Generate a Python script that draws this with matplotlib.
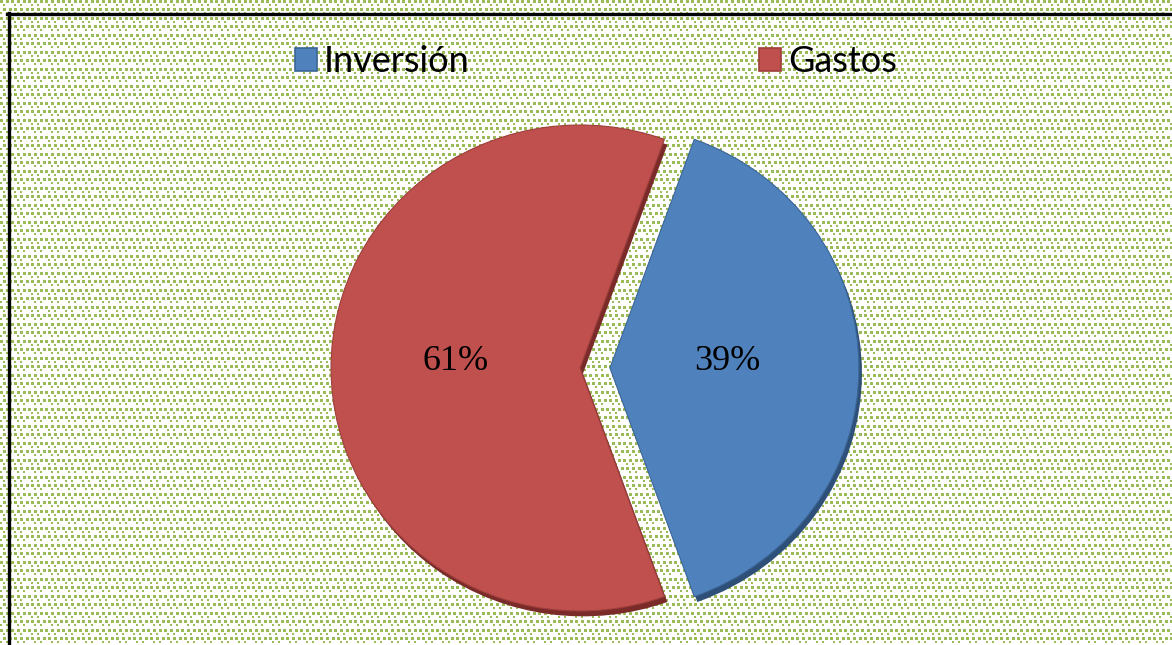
import numpy as np
import matplotlib
matplotlib.use("Agg")
import matplotlib.pyplot as plt
from matplotlib.patches import Patch
from matplotlib.lines import Line2D

categories = ["Inversión", "Gastos"]
values = [39, 61]
colors = ["#4F81BD", "#C0504D"]
shadow_colors = ["#2E5078", "#7A2B29"]
edge_colors = ["#3A6595", "#9C3E3B"]

W, H = 1172, 645
fig = plt.figure(figsize=(W / 100, H / 100), dpi=100)

# background dotted pattern
bg = fig.add_axes([0, 0, 1, 1])
img = np.ones((H, W, 3))
green = np.array([0x9B, 0xBB, 0x59]) / 255.0
tile = np.zeros((17, 17), dtype=bool)
for (r, c) in [(0, 0), (0, 6), (0, 11), (8, 3), (8, 9), (8, 14)]:
    tile[r:r + 3, c:c + 3] = True
for (r, c) in [(4, 3), (4, 14), (12, 0), (12, 6)]:
    tile[r:r + 2, c:c + 2] = True
mask = np.tile(tile, (H // 17 + 1, W // 17 + 1))[:H, :W]
img[mask] = green
bg.imshow(img, interpolation="nearest", aspect="auto", extent=(0, W, H, 0))
bg.set_xlim(0, W)
bg.set_ylim(H, 0)
bg.axis("off")
# frame
bg.add_line(Line2D([8.5, 8.5], [13, H], color="black", lw=2.4))
bg.add_line(Line2D([7.3, W], [13.5, 13.5], color="black", lw=2.4))

# pie
ax = fig.add_axes([0, 0, 1, 1])
ax.patch.set_alpha(0)
explode = [0.06, 0.06]
ax.pie(values, colors=shadow_colors, explode=explode, startangle=70.2,
       counterclock=False, center=(0.012, -0.022), radius=1.0,
       wedgeprops=dict(linewidth=0))
wedges, texts, autotexts = ax.pie(
    values, colors=colors, explode=explode, startangle=70.2,
    counterclock=False, radius=1.0, autopct="%1.0f%%", pctdistance=0.47,
    wedgeprops=dict(linewidth=0.8),
    textprops=dict(family="Liberation Serif", fontsize=26, color="black"))
for w, ec in zip(wedges, edge_colors):
    w.set_edgecolor(ec)
dx = [0.0, -0.03]
for t, d in zip(autotexts, dx):
    x, y = t.get_position()
    t.set_position((x + d, y + 0.025))
ax.set_aspect("auto")
sx, sy = 249.0, 243.0
cx, cy = 595.0, 368.0
ax.set_xlim(-cx / sx, (W - cx) / sx)
ax.set_ylim(-(H - cy) / sy, cy / sy)
ax.axis("off")

handles = [Patch(facecolor=c, edgecolor=e, linewidth=1.2) for c, e in zip(colors, edge_colors)]
fig.legend(handles, categories, loc="center", bbox_to_anchor=(596 / W, 1 - 62 / H),
           ncol=2, frameon=False, prop=dict(family="Lato", size=26),
           handlelength=0.62, handleheight=0.62, handletextpad=0.2,
           columnspacing=8.0)

fig.savefig("out.png", dpi=100)
